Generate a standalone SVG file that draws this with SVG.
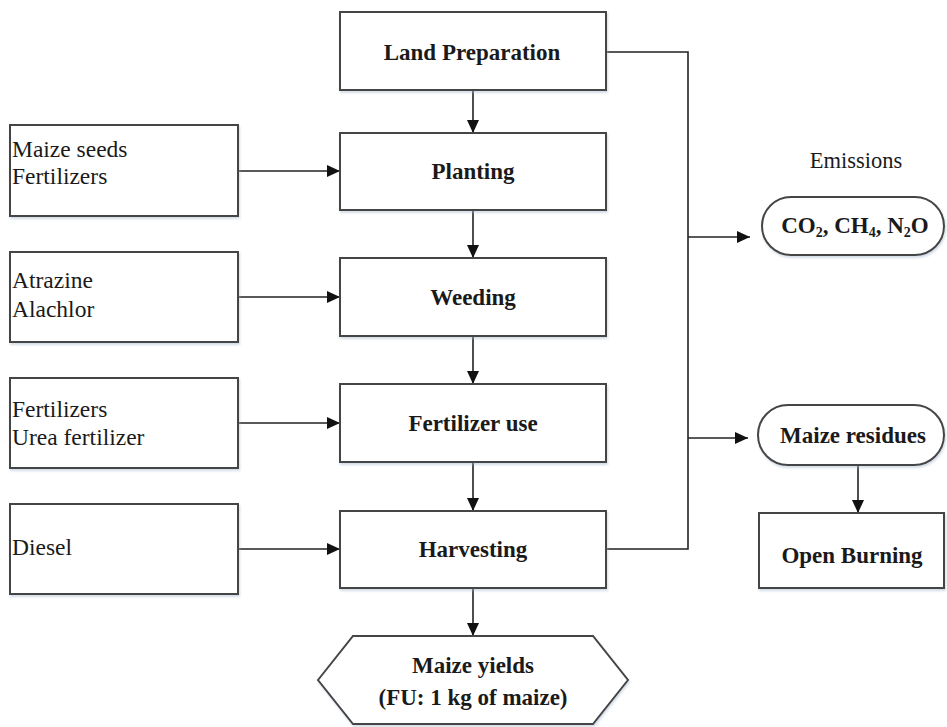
<svg xmlns="http://www.w3.org/2000/svg" width="947" height="727" viewBox="0 0 947 727">
  <defs>
    <marker id="arrow" viewBox="0 0 13 12" refX="13" refY="6" markerWidth="13" markerHeight="12" markerUnits="userSpaceOnUse" orient="auto">
      <path d="M0,0 L13,6 L0,12 Z" fill="#111"/>
    </marker>
    <filter id="shadow" x="-5%" y="-5%" width="110%" height="115%">
      <feDropShadow dx="1" dy="2" stdDeviation="1.2" flood-color="#9fb4cc" flood-opacity="0.45"/>
    </filter>
  </defs>
  <style>
    .box { fill: #fff; stroke: #444; stroke-width: 2; filter: url(#shadow); }
    .step { font-family: "Liberation Serif", "Times New Roman", serif; font-size: 23px; font-weight: bold; fill: #1a1a1a; text-anchor: middle; }
    .input { font-family: "Liberation Serif", "Times New Roman", serif; font-size: 23.5px; fill: #1a1a1a; }
    .label { font-family: "Liberation Serif", "Times New Roman", serif; font-size: 22.5px; fill: #1a1a1a; text-anchor: middle; }
    .link { fill: none; stroke: #222; stroke-width: 1.6; }
    .sub { font-size: 14px; }
  </style>

  <rect width="947" height="727" fill="#fff"/>

  <!-- connectors -->
  <g id="connectors">
    <!-- main chain -->
    <line class="link" x1="473" y1="90" x2="473" y2="133" marker-end="url(#arrow)"/>
    <line class="link" x1="473" y1="210" x2="473" y2="258" marker-end="url(#arrow)"/>
    <line class="link" x1="473" y1="336" x2="473" y2="384" marker-end="url(#arrow)"/>
    <line class="link" x1="473" y1="462" x2="473" y2="511" marker-end="url(#arrow)"/>
    <line class="link" x1="473" y1="588" x2="473" y2="636" marker-end="url(#arrow)"/>
    <!-- inputs -->
    <line class="link" x1="238" y1="171" x2="340" y2="171" marker-end="url(#arrow)"/>
    <line class="link" x1="238" y1="297" x2="340" y2="297" marker-end="url(#arrow)"/>
    <line class="link" x1="238" y1="423" x2="340" y2="423" marker-end="url(#arrow)"/>
    <line class="link" x1="238" y1="549" x2="340" y2="549" marker-end="url(#arrow)"/>
    <!-- collector bus on the right -->
    <polyline class="link" points="606,52 688,52 688,549 606,549"/>
    <line class="link" x1="688" y1="237" x2="750" y2="237" marker-end="url(#arrow)"/>
    <line class="link" x1="688" y1="438" x2="748" y2="438" marker-end="url(#arrow)"/>
    <line class="link" x1="858" y1="465" x2="858" y2="513" marker-end="url(#arrow)"/>
  </g>

  <!-- process steps -->
  <g id="land-preparation">
    <rect class="box" x="340" y="12" width="266" height="78"/>
    <text class="step" x="472" y="60">Land Preparation</text>
  </g>
  <g id="planting">
    <rect class="box" x="340" y="133" width="266" height="77"/>
    <text class="step" x="473" y="179">Planting</text>
  </g>
  <g id="weeding">
    <rect class="box" x="340" y="258" width="266" height="78"/>
    <text class="step" x="473" y="305">Weeding</text>
  </g>
  <g id="fertilizer-use">
    <rect class="box" x="340" y="384" width="266" height="78"/>
    <text class="step" x="473" y="431">Fertilizer use</text>
  </g>
  <g id="harvesting">
    <rect class="box" x="340" y="511" width="266" height="77"/>
    <text class="step" x="473" y="557">Harvesting</text>
  </g>

  <!-- inputs -->
  <g id="input-seeds">
    <rect class="box" x="10" y="125" width="228" height="91"/>
    <text class="input" x="12" y="157">Maize seeds</text>
    <text class="input" x="12" y="184">Fertilizers</text>
  </g>
  <g id="input-herbicides">
    <rect class="box" x="10" y="252" width="228" height="90"/>
    <text class="input" x="12" y="288">Atrazine</text>
    <text class="input" x="12" y="317">Alachlor</text>
  </g>
  <g id="input-fertilizers">
    <rect class="box" x="10" y="378" width="228" height="90"/>
    <text class="input" x="12" y="417">Fertilizers</text>
    <text class="input" x="12" y="445">Urea fertilizer</text>
  </g>
  <g id="input-diesel">
    <rect class="box" x="10" y="504" width="228" height="90"/>
    <text class="input" x="12" y="555">Diesel</text>
  </g>

  <!-- outputs -->
  <g id="emissions">
    <text class="label" x="856" y="168">Emissions</text>
    <rect class="box" x="762" y="197" width="182" height="58" rx="29" ry="29"/>
    <text class="step" x="855" y="233">CO<tspan class="sub" dy="4">2</tspan><tspan dy="-4">, CH</tspan><tspan class="sub" dy="4">4</tspan><tspan dy="-4">, N</tspan><tspan class="sub" dy="4">2</tspan><tspan dy="-4">O</tspan></text>
  </g>
  <g id="maize-residues">
    <rect class="box" x="758" y="405" width="186" height="60" rx="30" ry="30"/>
    <text class="step" x="853" y="443">Maize residues</text>
  </g>
  <g id="open-burning">
    <rect class="box" x="759" y="513" width="185" height="75"/>
    <text class="step" x="852" y="563">Open Burning</text>
  </g>
  <g id="maize-yields">
    <polygon class="box" points="318,680 353,636 593,636 628,680 593,724 353,724"/>
    <text class="step" x="473" y="673">Maize yields</text>
    <text class="step" x="473" y="705">(FU: 1 kg of maize)</text>
  </g>
</svg>
